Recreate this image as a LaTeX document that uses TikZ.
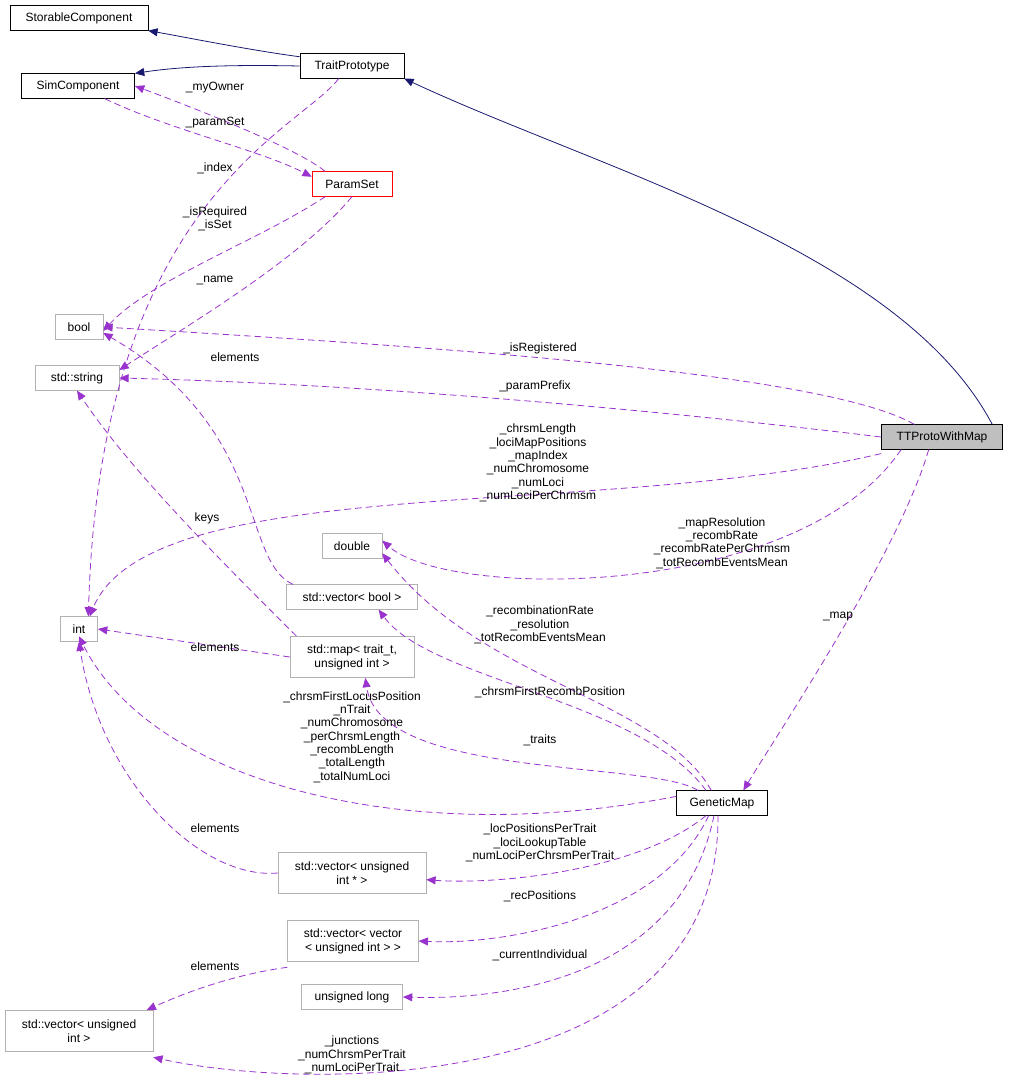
\documentclass[tikz,border=0pt]{standalone}
\usepackage{fontspec}
\setmainfont{Liberation Sans}
\usetikzlibrary{arrows.meta,positioning}
\definecolor{edgepurple}{HTML}{9A32CD}
\definecolor{edgenavy}{HTML}{191970}
\tikzset{
  cls/.style={draw=black,fill=white,minimum height=18.5pt,inner xsep=4pt,font=\fontsize{9}{10.5}\selectfont},
  ext/.style={cls,draw=black!30},
  inh/.style={draw=edgenavy,-{Triangle[length=7pt,width=6pt]},line width=0.6pt},
  use/.style={draw=edgepurple,dashed,dash pattern=on 5pt off 3pt,-{Triangle[length=7pt,width=6pt]},line width=0.6pt},
  lbl/.style={align=center,font=\fontsize{9}{10}\selectfont,inner sep=0pt}
}
\begin{document}
\begin{tikzpicture}[x=0.75pt,y=-0.75pt]
  \useasboundingbox (0,0) rectangle (1009,1092);

  % classes
  \node[cls,minimum width=103.5pt] (storable) at (79,18) {StorableComponent};
  \node[cls,minimum width=85pt] (simcomp) at (78,86) {SimComponent};
  \node[cls,minimum width=78pt] (proto) at (352,66) {TraitPrototype};
  \node[cls,draw=red,minimum width=60pt] (params) at (352,184) {ParamSet};
  \node[cls,fill=black!25,minimum width=91pt] (ttmap) at (942,437) {TTProtoWithMap};
  \node[cls,minimum width=68pt] (genmap) at (722,803) {GeneticMap};

  % types
  \node[ext,minimum width=36pt] (bool) at (79,327) {bool};
  \node[ext,minimum width=63pt] (str) at (77,378) {std::string};
  \node[ext,minimum width=45pt] (dbl) at (352,546) {double};
  \node[ext,minimum width=98pt] (vbool) at (352,597) {std::vector< bool >};
  \node[ext,minimum width=28pt] (int) at (79,629) {int};
  \node[ext,minimum width=93pt,align=center,minimum height=31pt] (map) at (352,657) {std::map< trait\_t,\\unsigned int >};
  \node[ext,minimum width=111pt,align=center,minimum height=31pt] (vuptr) at (352,873) {std::vector< unsigned\\int * >};
  \node[ext,minimum width=98pt,align=center,minimum height=31pt] (vvec) at (353,941) {std::vector< vector\\< unsigned int > >};
  \node[ext,minimum width=76pt] (ulong) at (352,997) {unsigned long};
  \node[ext,minimum width=111pt,align=center,minimum height=31pt] (vuint) at (79,1031) {std::vector< unsigned\\int >};

  % inheritance
  \draw[inh] (proto.170) .. controls (250,50) and (200,40) .. (storable.south east);
  \draw[inh] (proto.west) .. controls (250,65) and (190,65) .. (simcomp.north east);
  \draw[inh] ([xshift=-8pt]ttmap.north east) .. controls (900,250) and (600,170) .. (proto.south east);

  % usage
  \draw[use] ([xshift=10pt]params.north west) .. controls (300,150) and (200,110) .. (simcomp.east);
  \draw[use] ([xshift=20pt]simcomp.south) .. controls (170,130) and (260,150) .. ([yshift=-4pt]params.north west);
  \draw[use] ([xshift=-10pt]proto.south) .. controls (300,130) and (100,200) .. ([xshift=7pt]int.north);
  \draw[use] ([xshift=-20pt]params.south) .. controls (260,240) and (150,280) .. ([yshift=-3pt]bool.east);
  \draw[use] (params.south) .. controls (300,260) and (180,330) .. ([yshift=6pt]str.east);
  \draw[use] ([xshift=25pt]ttmap.north west) .. controls (820,370) and (400,345) .. (bool.east);
  \draw[use] (ttmap.west) .. controls (700,415) and (400,385) .. (str.east);
  \draw[use] ([yshift=-3pt]ttmap.south west) .. controls (600,520) and (150,470) .. ([xshift=8pt]int.north);
  \draw[use] ([xshift=15pt]ttmap.south west) .. controls (800,600) and (450,600) .. ([yshift=4pt]dbl.east);
  \draw[use] ([xshift=-10pt]ttmap.south) .. controls (900,550) and (780,730) .. ([xshift=16pt]genmap.north);
  \draw[use] ([xshift=5pt]vbool.north west) .. controls (240,560) and (270,430) .. ([yshift=5pt]bool.south east);
  \draw[use] ([xshift=5pt]map.north west) .. controls (220,560) and (130,470) .. (str.south);
  \draw[use] (map.west) -- (int.east);
  \draw[use] ([xshift=-8pt]genmap.north) .. controls (660,700) and (480,680) .. ([yshift=4pt]dbl.south east);
  \draw[use] ([xshift=-12pt]genmap.north) .. controls (640,700) and (430,680) .. ([xshift=20pt]vbool.south);
  \draw[use] ([xshift=-18pt]genmap.north) .. controls (650,760) and (380,780) .. ([xshift=10pt]map.south);
  \draw[use] ([yshift=5pt]genmap.west) .. controls (400,850) and (150,780) .. ([yshift=4pt]int.south);
  \draw[use] (vuptr.west) .. controls (200,880) and (100,780) .. (int.south);
  \draw[use] ([xshift=-12pt]genmap.south) .. controls (640,870) and (500,885) .. ([yshift=-5pt]vuptr.east);
  \draw[use] ([xshift=-10pt]genmap.south) .. controls (660,920) and (500,945) .. (vvec.east);
  \draw[use] ([yshift=-4pt]vvec.south west) .. controls (230,975) and (180,995) .. ([xshift=-5pt]vuint.north east);
  \draw[use] ([xshift=-6pt]genmap.south) .. controls (680,980) and (500,1000) .. (ulong.east);
  \draw[use] ([xshift=-3pt]genmap.south) .. controls (720,1100) and (300,1090) .. ([yshift=-4pt]vuint.south east);

  % labels
  \node[lbl] (l1) at (215,88) {\_myOwner};
  \node[lbl] (l2) at (215,123) {\_paramSet};
  \node[lbl] (l3) at (215,168) {\_index};
  \node[lbl] (l4) at (215,219) {\_isRequired\\\_isSet};
  \node[lbl] (l5) at (215,280) {\_name};
  \node[lbl] (l6) at (540,348) {\_isRegistered};
  \node[lbl] (l7) at (535,386) {\_paramPrefix};
  \node[lbl] (l8) at (538,463) {\_chrsmLength\\\_lociMapPositions\\\_mapIndex\\\_numChromosome\\\_numLoci\\\_numLociPerChrmsm};
  \node[lbl] (l9) at (722,543) {\_mapResolution\\\_recombRate\\\_recombRatePerChrmsm\\\_totRecombEventsMean};
  \node[lbl] (l10) at (838,617) {\_map};
  \node[lbl] (l11) at (235,357) {elements};
  \node[lbl] (l12) at (207,518) {keys};
  \node[lbl] (l13) at (215,647) {elements};
  \node[lbl] (l14) at (540,625) {\_recombinationRate\\\_resolution\\\_totRecombEventsMean};
  \node[lbl] (l15) at (550,692) {\_chrsmFirstRecombPosition};
  \node[lbl] (l16) at (540,740) {\_traits};
  \node[lbl] (l17) at (352,737) {\_chrsmFirstLocusPosition\\\_nTrait\\\_numChromosome\\\_perChrsmLength\\\_recombLength\\\_totalLength\\\_totalNumLoci};
  \node[lbl] (l18) at (215,828) {elements};
  \node[lbl] (l19) at (540,843) {\_locPositionsPerTrait\\\_lociLookupTable\\\_numLociPerChrsmPerTrait};
  \node[lbl] (l20) at (540,896) {\_recPositions};
  \node[lbl] (l21) at (540,955) {\_currentIndividual};
  \node[lbl] (l22) at (215,966) {elements};
  \node[lbl] (l23) at (352,1055) {\_junctions\\\_numChrsmPerTrait\\\_numLociPerTrait};
\end{tikzpicture}
\end{document}
